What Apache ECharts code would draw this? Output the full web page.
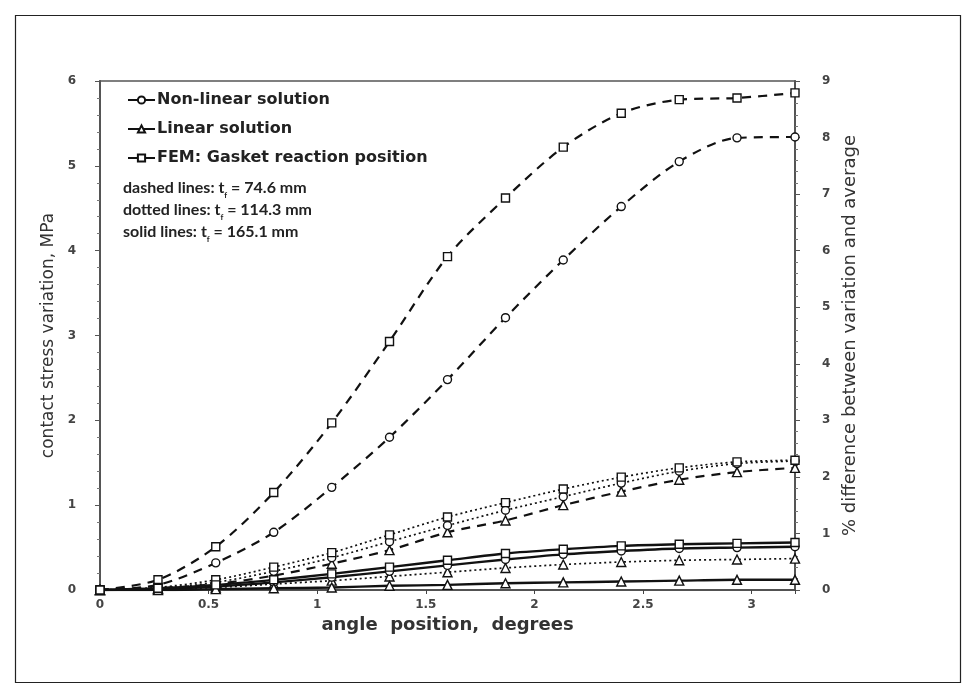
<!DOCTYPE html>
<html>
<head>
<meta charset="utf-8">
<script src="https://cdn.jsdelivr.net/npm/echarts@6/dist/echarts.min.js"></script>
<style>html,body{margin:0;padding:0;background:#fff}#c{width:971px;height:693px}</style>
</head>
<body>
<div id="c"></div>
<script>
// angle positions, degrees
const angles = [0, 0.267, 0.533, 0.8, 1.067, 1.333, 1.6, 1.867, 2.133, 2.4, 2.667, 2.933, 3.2];
// contact stress variation, MPa
// dashed lines: t_f = 74.6 mm
const nonlinDashed = [0, 0.06, 0.32, 0.68, 1.21, 1.80, 2.48, 3.21, 3.89, 4.52, 5.05, 5.33, 5.34];
const linDashed    = [0, 0.02, 0.07, 0.17, 0.31, 0.47, 0.68, 0.82, 1.00, 1.16, 1.30, 1.39, 1.44];
const femDashed    = [0, 0.12, 0.51, 1.15, 1.97, 2.93, 3.93, 4.62, 5.22, 5.62, 5.78, 5.80, 5.86];
// dotted lines: t_f = 114.3 mm
const nonlinDotted = [0, 0.02, 0.09, 0.22, 0.38, 0.57, 0.76, 0.94, 1.10, 1.26, 1.40, 1.49, 1.52];
const linDotted    = [0, 0.01, 0.03, 0.07, 0.11, 0.16, 0.21, 0.26, 0.30, 0.33, 0.35, 0.36, 0.37];
const femDotted    = [0, 0.03, 0.12, 0.27, 0.44, 0.65, 0.86, 1.03, 1.19, 1.33, 1.44, 1.51, 1.53];
// solid lines: t_f = 165.1 mm
const nonlinSolid  = [0, 0.01, 0.04, 0.09, 0.15, 0.22, 0.29, 0.36, 0.42, 0.46, 0.49, 0.50, 0.51];
const linSolid     = [0, 0.00, 0.01, 0.02, 0.03, 0.05, 0.06, 0.08, 0.09, 0.10, 0.11, 0.12, 0.12];
const femSolid     = [0, 0.02, 0.06, 0.12, 0.19, 0.27, 0.35, 0.43, 0.48, 0.52, 0.54, 0.55, 0.56];

const legendNames = ['Non-linear solution', 'Linear solution', 'FEM: Gasket reaction position'];
const leftTicks = [0, 1, 2, 3, 4, 5, 6];
const rightTicks = [0, 1, 2, 3, 4, 5, 6, 7, 8, 9];
const xTicks = [0, 0.5, 1, 1.5, 2, 2.5, 3];

const pair = (ys) => angles.map((a, i) => [a, ys[i]]);
const styles = {
  dashed: {type: [9, 7], width: 2.2},
  dotted: {type: [2, 3], width: 1.7},
  solid:  {type: 'solid', width: 2.4}
};
function mk(name, ys, sym, st, z) {
  return {
    name: name, type: 'line', data: pair(ys), smooth: 0.3,
    symbol: sym, symbolSize: sym === 'triangle' ? 9 : 8, z: z,
    lineStyle: Object.assign({color: '#111'}, styles[st]),
    itemStyle: {color: '#fff', borderColor: '#111', borderWidth: 1.4},
    emphasis: {disabled: true}
  };
}
const series = [
  mk(legendNames[0], nonlinSolid, 'circle', 'solid', 3),
  mk(legendNames[1], linSolid, 'triangle', 'solid', 3),
  mk(legendNames[2], femSolid, 'rect', 'solid', 3),
  mk('nl-dashed', nonlinDashed, 'circle', 'dashed', 2),
  mk('l-dashed', linDashed, 'triangle', 'dashed', 2),
  mk('fem-dashed', femDashed, 'rect', 'dashed', 2),
  mk('nl-dotted', nonlinDotted, 'circle', 'dotted', 2),
  mk('l-dotted', linDotted, 'triangle', 'dotted', 2),
  mk('fem-dotted', femDotted, 'rect', 'dotted', 2)
];

const chart = echarts.init(document.getElementById('c'), null, {renderer: 'canvas'});
const lblFont = {color: '#444', fontFamily: 'DejaVu Sans', fontWeight: 'bold', fontSize: 12};
const titleFont = {fontFamily: 'DejaVu Sans', fontSize: 17, color: '#333'};
chart.setOption({
  animation: false,
  backgroundColor: '#fff',
  grid: {left: 100, right: 176, top: 81, bottom: 103, show: true, borderColor: '#555', borderWidth: 1.5, backgroundColor: 'transparent'},
  legend: {
    data: legendNames, orient: 'vertical', left: 122, top: 87, itemGap: 13,
    itemWidth: 27, itemHeight: 9,
    textStyle: {fontFamily: 'DejaVu Sans', fontWeight: 'bold', fontSize: 16, color: '#222', padding: [0, 0, 0, -3]}
  },
  xAxis: {
    type: 'value', min: 0, max: 3.2, interval: 0.5,
    name: 'angle  position,  degrees', nameLocation: 'middle', nameGap: 25,
    nameTextStyle: Object.assign({}, titleFont, {fontSize: 18, fontWeight: 'bold'}),
    axisLine: {show: true, lineStyle: {color: '#444', width: 1.5}},
    axisTick: {show: true, inside: false, length: 4, lineStyle: {color: '#444'}},
    axisLabel: Object.assign({margin: 9, formatter: v => xTicks.includes(v) ? String(v) : ''}, lblFont),
    splitLine: {show: false}
  },
  yAxis: [{
    type: 'value', min: 0, max: 6, interval: 1, position: 'left',
    name: 'contact stress variation, MPa', nameLocation: 'middle', nameGap: 40, nameRotate: 90,
    nameTextStyle: titleFont,
    axisLine: {show: true, lineStyle: {color: '#555', width: 2}},
    axisTick: {show: true, length: 5, lineStyle: {color: '#555'}},
    minorTick: {show: true, splitNumber: 5, length: 3, lineStyle: {color: '#777'}},
    axisLabel: Object.assign({margin: 24, formatter: v => leftTicks.includes(v) ? String(v) : ''}, lblFont),
    splitLine: {show: false}
  }, {
    type: 'value', min: 0, max: 9, interval: 1, position: 'right',
    name: '% difference between variation and average', nameLocation: 'middle', nameGap: 42, nameRotate: 90,
    nameTextStyle: Object.assign({}, titleFont, {fontSize: 18}),
    axisLine: {show: true, lineStyle: {color: '#555', width: 2}},
    axisTick: {show: true, length: 5, lineStyle: {color: '#555'}},
    minorTick: {show: true, splitNumber: 5, length: 3, lineStyle: {color: '#777'}},
    axisLabel: Object.assign({margin: 27, formatter: v => rightTicks.includes(v) ? String(v) : ''}, lblFont),
    splitLine: {show: false}
  }],
  graphic: [
    {type: 'rect', left: 13, top: 13, z: -10, silent: true,
     shape: {width: 945, height: 667}, style: {fill: 'none', stroke: '#222', lineWidth: 1.2}},
    {type: 'text', left: 123, top: 177, z: 10, style: {
      text: 'dashed lines: t{s|f} = 74.6 mm\ndotted lines: t{s|f} = 114.3 mm\nsolid lines: t{s|f} = 165.1 mm',
      font: 'bold 16px Lato', fill: '#222', lineHeight: 22,
      rich: {s: {fontSize: 8, fontWeight: 'bold', fontFamily: 'Lato', verticalAlign: 'bottom', padding: [6, 0, 0, 0]}}
    }}
  ],
  series: series
});
</script>
</body>
</html>
